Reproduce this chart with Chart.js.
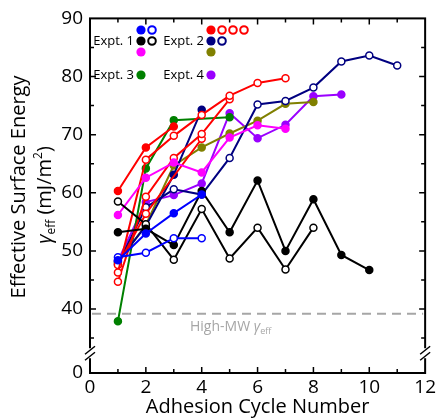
<!DOCTYPE html>
<html>
<head>
<meta charset="utf-8">
<script src="https://cdn.jsdelivr.net/npm/chart.js@4.4.1/dist/chart.umd.min.js"></script>
<style>
html, body { margin: 0; padding: 0; background: #fff; }
#wrap { width: 439px; height: 418px; }
</style>
</head>
<body>
<div id="wrap"><canvas id="energyChart" width="439" height="418"></canvas></div>
<script>
// Adhesion cycle numbers (x) - series values below are indexed by cycle
const cycles = [1, 2, 3, 4, 5, 6, 7, 8, 9, 10, 11];

// Expt. 1
const e1BlueFilled  = [48.4, 53.0, 56.5, 59.7];
const e1BlueOpen    = [48.9, 49.7, 52.2, 52.2];
const e1BlackFilled = [53.2, 53.8, 51.0, 60.3, 53.2, 62.1, 50.0, 58.9, 49.3, 46.7];
const e1BlackOpen   = [58.5, 54.6, 48.5, 57.2, 48.7, 54.0, 46.8, 54.0];
const e1Magenta     = [56.2, 62.6, 65.2, 63.5, 69.5, 71.6, 71.0];
// Expt. 2
const e2RedFilled   = [60.3, 67.8, 71.4];
const e2RedOpenA    = [46.3, 65.7, 69.8, 73.4, 76.7, 78.9, 79.7];
const e2RedOpenB    = [44.7, 59.3, 66.0, 70.1, 76.1];
const e2RedOpenC    = [47.6, 56.4, null, 69.3];
const e2NavyFilled  = [48.2, 54.3, 63.1, 74.3];
const e2NavyOpen    = [47.7, 57.5, 60.6, 59.7, 66.0, 75.2, 75.8, 78.1, 82.6, 83.6, 81.9];
const e2Olive       = [48.0, 54.5, 64.7, 67.8, 70.2, 72.4, 75.3, 75.6];
// Expt. 3 / Expt. 4
const e3Green       = [37.9, 64.2, 72.5, null, 73.0];
const e4Purple      = [48.3, 58.4, 59.6, 61.6, 73.7, 69.4, 71.7, 76.6, 76.9];

// axis values
const xTickStep = 2;
const yTickValues = [40, 50, 60, 70, 80, 90];
const yBreakFloor = 29;   // bottom of broken axis, shown as 0
const yBreakAt = 32.4;    // where the axis break marks sit
const highMW = 39.2;      // High-MW gamma_eff reference

const FONT = "'Open Sans', 'DejaVu Sans', sans-serif";

const series = [
    { values: e1BlueFilled,  color: '#0000ff', open: false },
    { values: e1BlueOpen,    color: '#0000ff', open: true },
    { values: e1BlackFilled, color: '#000000', open: false },
    { values: e1BlackOpen,   color: '#000000', open: true },
    { values: e1Magenta,     color: '#ff00ff', open: false },
    { values: e2RedFilled,   color: '#ff0000', open: false },
    { values: e2RedOpenA,    color: '#ff0000', open: true },
    { values: e2RedOpenB,    color: '#ff0000', open: true },
    { values: e2RedOpenC,    color: '#ff0000', open: true },
    { values: e2NavyFilled,  color: '#000080', open: false },
    { values: e2NavyOpen,    color: '#000080', open: true },
    { values: e2Olive,       color: '#808000', open: false },
    { values: e3Green,       color: '#008000', open: false },
    { values: e4Purple,      color: '#9a00ff', open: false }
];

function toPoints(values) {
    return values.map((v, i) => ({ x: cycles[i], y: v }));
}

const datasets = series.map(s => ({
    data: toPoints(s.values),
    borderColor: s.color,
    backgroundColor: s.color,
    borderWidth: 2,
    pointRadius: 3.5,
    pointBorderWidth: 1.5,
    pointBorderColor: s.color,
    pointBackgroundColor: s.open ? '#ffffff' : s.color,
    spanGaps: true,
    tension: 0
}));

// draws a row of text pieces (normal / italic / sub / sup)
function drawRich(ctx, parts, x, y, align) {
    let total = 0;
    parts.forEach(p => { ctx.font = p.font; total += ctx.measureText(p.t).width; });
    let cx = align === 'center' ? x - total / 2 : x;
    parts.forEach(p => {
        ctx.font = p.font;
        ctx.fillText(p.t, cx, y + (p.dy || 0));
        cx += ctx.measureText(p.t).width;
    });
}

function legendMarker(ctx, x, y, color, open) {
    ctx.beginPath();
    ctx.arc(x, y, open ? 3.8 : 4.6, 0, Math.PI * 2);
    if (open) { ctx.fillStyle = '#fff'; ctx.fill(); ctx.lineWidth = 2; ctx.strokeStyle = color; ctx.stroke(); }
    else { ctx.fillStyle = color; ctx.fill(); }
}

const framePlugin = {
    id: 'frame',
    beforeDatasetsDraw(chart) {
        const { ctx, chartArea: a, scales: { y } } = chart;
        const yy = y.getPixelForValue(highMW);
        ctx.save();
        ctx.strokeStyle = '#a6a6a6'; ctx.lineWidth = 2; ctx.setLineDash([9, 6]);
        ctx.beginPath(); ctx.moveTo(a.left + 2, yy); ctx.lineTo(a.right - 2, yy); ctx.stroke();
        ctx.setLineDash([]);
        ctx.fillStyle = '#a6a6a6'; ctx.textBaseline = 'alphabetic';
        drawRich(ctx, [
            { t: 'High-MW ', font: '14px ' + FONT },
            { t: '\u03b3', font: 'italic 14px ' + FONT },
            { t: 'eff', font: '9px ' + FONT, dy: 3 }
        ], 190, yy + 17, 'left');
        ctx.restore();
    },
    afterDraw(chart) {
        const { ctx, chartArea: a, scales: { x, y } } = chart;
        ctx.save();
        // box
        ctx.strokeStyle = '#000'; ctx.lineWidth = 2;
        ctx.strokeRect(a.left, a.top, a.right - a.left, a.bottom - a.top);
        // inward ticks
        ctx.lineWidth = 1.5;
        ctx.beginPath();
        for (let v = 1; v < 12; v++) {
            const px = x.getPixelForValue(v), len = v % 2 === 0 ? 6 : 4;
            ctx.moveTo(px, a.bottom); ctx.lineTo(px, a.bottom - len);
            ctx.moveTo(px, a.top); ctx.lineTo(px, a.top + len);
        }
        for (let v = 35; v < 90; v += 5) {
            const py = y.getPixelForValue(v), len = v % 10 === 0 ? 6 : 4;
            ctx.moveTo(a.left, py); ctx.lineTo(a.left + len, py);
            ctx.moveTo(a.right, py); ctx.lineTo(a.right - len, py);
        }
        ctx.stroke();
        // axis break marks
        const yb = y.getPixelForValue(yBreakAt);
        [a.left, a.right].forEach(xp => {
            ctx.fillStyle = '#fff';
            ctx.fillRect(xp - 2, yb - 5, 4, 10);
            ctx.strokeStyle = '#000'; ctx.lineWidth = 1.5;
            ctx.beginPath();
            ctx.moveTo(xp - 5, yb + 1); ctx.lineTo(xp + 5, yb - 7);
            ctx.moveTo(xp - 5, yb + 7); ctx.lineTo(xp + 5, yb - 1);
            ctx.stroke();
        });
        // axis titles
        ctx.fillStyle = '#000';
        ctx.textAlign = 'center'; ctx.textBaseline = 'middle';
        ctx.font = '20px ' + FONT;
        ctx.fillText('Adhesion Cycle Number', (a.left + a.right) / 2, 407);
        ctx.save();
        ctx.translate(19, 187); ctx.rotate(-Math.PI / 2);
        ctx.fillText('Effective Surface Energy', 0, 0);
        ctx.restore();
        ctx.save();
        ctx.translate(44, 195); ctx.rotate(-Math.PI / 2);
        ctx.textAlign = 'left'; ctx.textBaseline = 'alphabetic';
        drawRich(ctx, [
            { t: '\u03b3', font: 'italic 20px ' + FONT },
            { t: 'eff', font: '12px ' + FONT, dy: 4 },
            { t: ' (mJ/m', font: '20px ' + FONT },
            { t: '2', font: '12px ' + FONT, dy: -9 },
            { t: ')', font: '20px ' + FONT }
        ], 0, 7, 'center');
        ctx.restore();
        // legend
        ctx.font = '13px ' + FONT; ctx.textAlign = 'right'; ctx.textBaseline = 'middle';
        ctx.fillText('Expt. 1', 134, 41);
        ctx.fillText('Expt. 2', 204, 41);
        ctx.fillText('Expt. 3', 134, 75);
        ctx.fillText('Expt. 4', 204, 75);
        const c = series.map(s => s.color);
        legendMarker(ctx, 141, 30, c[0], false); legendMarker(ctx, 152, 30, c[1], true);
        legendMarker(ctx, 141, 41, c[2], false); legendMarker(ctx, 152, 41, c[3], true);
        legendMarker(ctx, 141, 52, c[4], false);
        legendMarker(ctx, 211, 30, c[5], false); legendMarker(ctx, 222, 30, c[6], true);
        legendMarker(ctx, 233, 30, c[7], true);  legendMarker(ctx, 244, 30, c[8], true);
        legendMarker(ctx, 211, 41, c[9], false); legendMarker(ctx, 222, 41, c[10], true);
        legendMarker(ctx, 211, 52, c[11], false);
        legendMarker(ctx, 141, 75, c[12], false);
        legendMarker(ctx, 211, 75, c[13], false);
        ctx.restore();
    }
};

new Chart(document.getElementById('energyChart'), {
    type: 'line',
    data: { datasets },
    options: {
        responsive: false, animation: false,
        layout: { padding: { top: 18, right: 11, left: 0, bottom: 0 } },
        plugins: { legend: { display: false }, tooltip: { enabled: false } },
        scales: {
            x: {
                type: 'linear', min: 0, max: 12,
                grid: { display: false, drawTicks: false }, border: { display: false },
                ticks: { stepSize: xTickStep, color: '#000', font: { family: FONT, size: 19 }, padding: 3, maxRotation: 0 },
                afterFit: s => { s.height = 45; }
            },
            y: {
                min: yBreakFloor, max: 90,
                grid: { display: false, drawTicks: false }, border: { display: false },
                afterBuildTicks: s => { s.ticks = [yBreakFloor, ...yTickValues].map(v => ({ value: v })); },
                ticks: { color: '#000', font: { family: FONT, size: 19 }, padding: 7,
                         callback: v => v === yBreakFloor ? '0' : String(v) },
                afterFit: s => { s.width = 90; }
            }
        }
    },
    plugins: [framePlugin]
});
</script>
</body>
</html>
